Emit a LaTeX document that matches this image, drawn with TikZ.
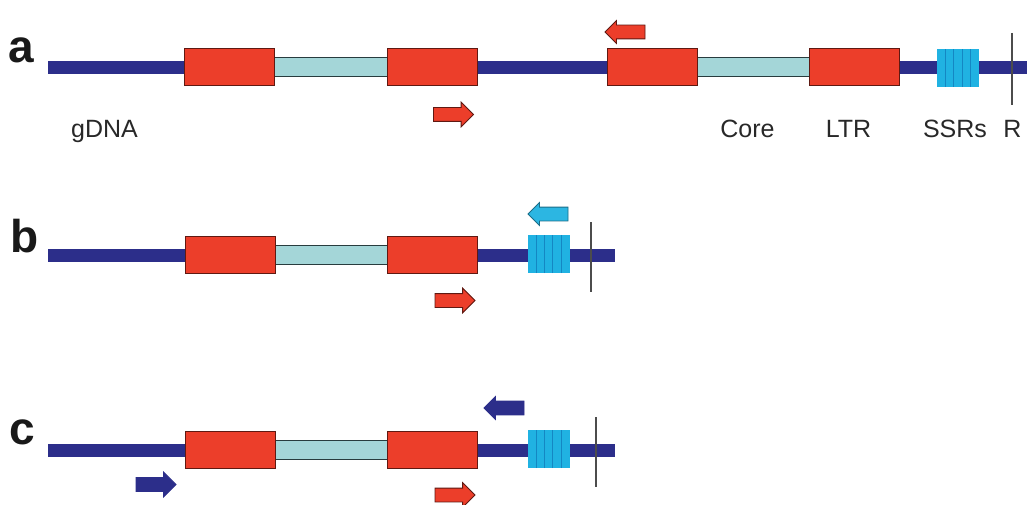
\documentclass[tikz,border=0pt]{standalone}
\usepackage{fontspec}
\setmainfont{Liberation Sans}
\usetikzlibrary{shapes.arrows}
\definecolor{navy}{RGB}{44,46,138}
\definecolor{ltrred}{RGB}{236,62,42}
\definecolor{reddark}{RGB}{95,25,18}
\definecolor{corecyan}{RGB}{164,214,216}
\definecolor{coredark}{RGB}{40,60,62}
\definecolor{ssrcyan}{RGB}{32,178,226}
\definecolor{ssrline}{RGB}{20,135,195}
\definecolor{primcyan}{RGB}{44,182,226}
\definecolor{txtgray}{RGB}{40,40,40}
\begin{document}
\begin{tikzpicture}[x=1pt,y=-1pt,
  dna/.style={navy, line width=13pt, line cap=butt},
  ltrbox/.style={draw=reddark, fill=ltrred, line width=1pt, minimum width=90pt, minimum height=37pt, inner sep=0pt, outer sep=0pt},
  corebar/.style={draw=coredark, fill=corecyan, line width=1pt, minimum height=19pt, inner sep=0pt, outer sep=0pt},
  ssrbox/.style={fill=ssrcyan, minimum width=42pt, minimum height=38pt, inner sep=0pt, outer sep=0pt,
    path picture={\foreach \i in {1,...,4} \draw[ssrline, line width=0.7pt] ([xshift=\i*8.4pt]path picture bounding box.south west) -- ([xshift=\i*8.4pt]path picture bounding box.north west);}},
  rline/.style={line width=1.5pt, draw=black!70},
  primer/.style={single arrow, anchor=tip, minimum height=40pt, inner xsep=0pt, inner ysep=6.5pt, outer sep=0pt, single arrow head extend=5.5pt, single arrow tip angle=90, line width=0.8pt},
  redprimer/.style={primer, fill=ltrred, draw=reddark},
  blueprimer/.style={primer, fill=navy, draw=navy},
  cyanprimer/.style={primer, fill=primcyan, draw=primcyan!60!black},
  left/.style={shape border rotate=180},
  small head/.style={single arrow head extend=4.5pt},
  lbl/.style={font=\fontsize{25}{25}\selectfont, text=txtgray, anchor=base, inner sep=0pt},
  rowlbl/.style={font=\fontsize{46}{46}\selectfont\bfseries, text=black!90, anchor=base west, inner sep=0pt}
]
\useasboundingbox (0,0) rectangle (1027,505);
\fill[white] (0,0) rectangle (1027,505);

% ---- row a ----
\node[rowlbl] (la) at (8,63) {a};
\coordinate (as) at (48,68);
\coordinate (ae) at (1027,68);
\draw[dna] (as) -- (ae);
\node[corebar, minimum width=113pt] (ac1) at (330.5,67.5) {};
\node[corebar, minimum width=112pt] (ac2) at (753,67.5) {};
\node[ltrbox] (a1) at (229.5,67) {};
\node[ltrbox] (a2) at (432,67) {};
\node[ltrbox] (a3) at (652,67) {};
\node[ltrbox] (a4) at (854,67) {};
\node[ssrbox] (as1) at (958,68) {};
\coordinate (avt) at (1012,33);
\coordinate (avb) at (1012,105);
\draw[rline] (avt) -- (avb);
\node[redprimer] (ap1) at (473.5,114.5) {};
\node[redprimer, left, small head] (ap2) at (605,32) {};
\node[lbl] (tg) at (104.5,138) {gDNA};
\node[lbl] (tc) at (747.5,138) {Core};
\node[lbl] (tl) at (848.5,138) {LTR};
\node[lbl] (ts) at (955,138) {SSRs};
\node[lbl] (tr) at (1012.5,138) {R};

% ---- rows b and c ----
\foreach \r/\y/\vx in {b/255/591,c/450/596}{
  \coordinate (\r s) at (48,\y);
  \coordinate (\r e) at (615,\y);
  \draw[dna] (\r s) -- (\r e);
  \node[corebar, minimum width=112pt] (\r c1) at (331,\y-0.5) {};
  \node[ltrbox] (\r 1) at (230,\y) {};
  \node[ltrbox] (\r 2) at (432.5,\y) {};
  \node[ssrbox] (\r ss) at (548.5,\y-1) {};
  \coordinate (\r vt) at (\vx,\y-33);
  \coordinate (\r vb) at (\vx,\y+37);
  \draw[rline] (\r vt) -- (\r vb);
}
\node[rowlbl] (lb) at (10,252) {b};
\node[rowlbl] (lc) at (9,444) {c};
\node[redprimer] (bp1) at (475,300.5) {};
\node[cyanprimer, left, small head] (bp2) at (528,214) {};
\node[redprimer] (cp1) at (475,495) {};
\node[blueprimer] (cp2) at (176,484.5) {};
\node[blueprimer, left, small head] (cp3) at (484,408) {};
\end{tikzpicture}
\end{document}
